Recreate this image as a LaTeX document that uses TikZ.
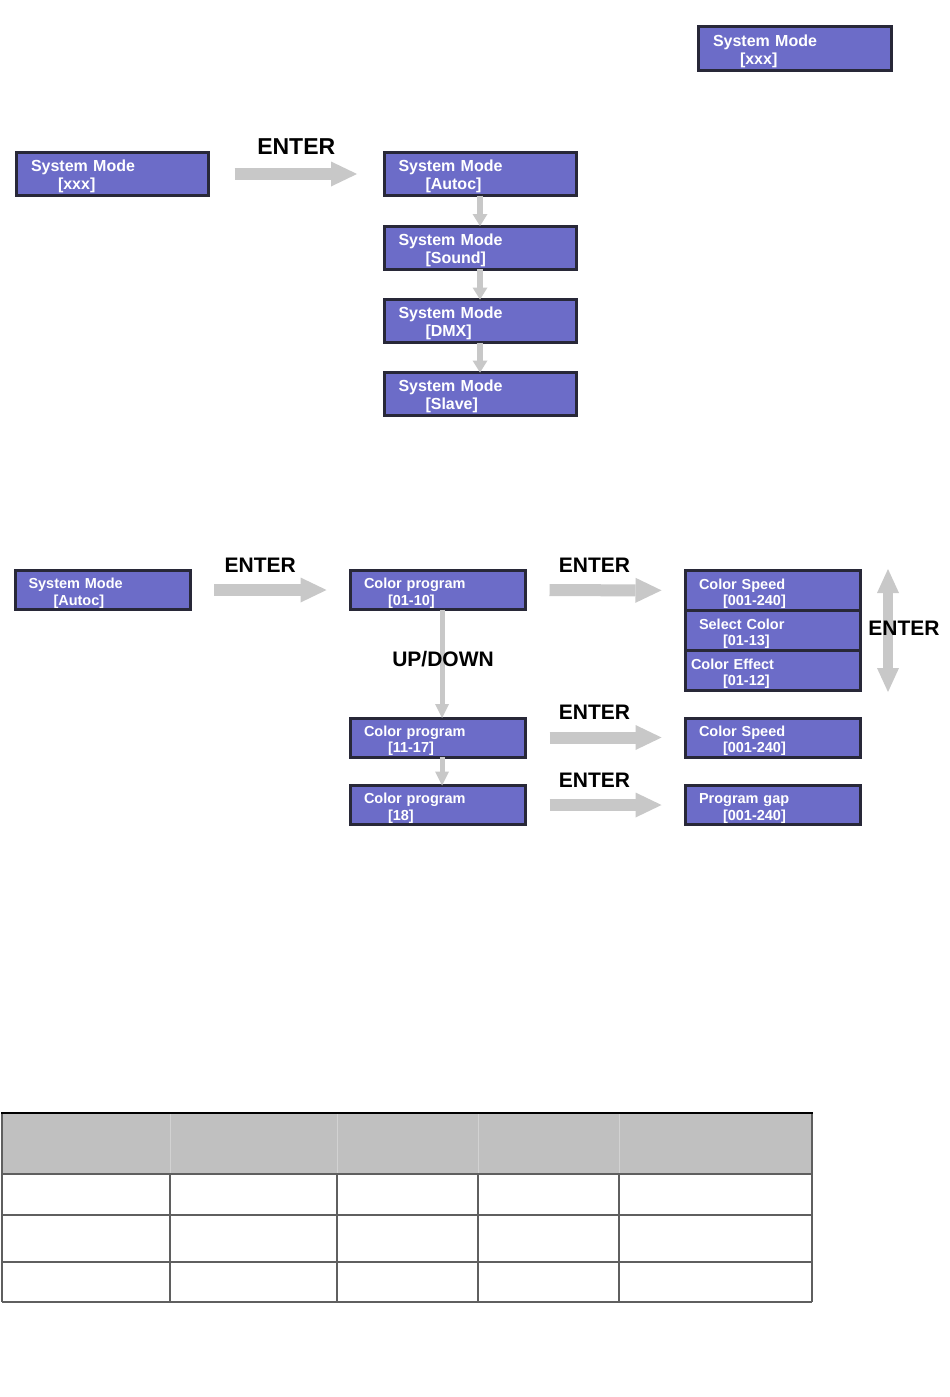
\documentclass[tikz,border=0pt]{standalone}
\usepackage{fontspec}
\setmainfont{Liberation Sans}
\usetikzlibrary{arrows.meta}
\definecolor{lcdfill}{RGB}{108,108,200}
\definecolor{lcdline}{RGB}{40,40,56}
\definecolor{arrgray}{RGB}{200,200,200}
\definecolor{hdrgray}{RGB}{192,192,192}
\definecolor{hdrsep}{RGB}{210,210,210}
\definecolor{tblline}{RGB}{95,95,95}
\newcommand{\lcdstrut}{\rule{0pt}{16.5pt}}
\begin{document}
\begin{tikzpicture}[x=1pt,y=-1pt,
  lcd/.style={draw=lcdline, line width=3pt, fill=lcdfill, text=white, align=left, inner ysep=0pt, outer sep=0pt},
  lcdA/.style={lcd, font=\bfseries\fontsize{16}{18}\selectfont, minimum width=192pt, minimum height=43pt, inner xsep=14.5pt, text width=163pt},
  lcdB/.style={lcd, font=\bfseries\fontsize{14.5}{16.5}\selectfont, minimum width=175pt, minimum height=39pt, inner xsep=13.5pt, text width=148pt},
  bigarrow/.style={draw=arrgray, line width=12pt, -{Triangle[length=26pt,width=25pt,line width=0pt]}, shorten <=24pt, shorten >=24pt},
  smallarrow/.style={draw=arrgray, line width=6pt, -{Triangle[length=12pt,width=15pt,line width=0pt]}},
  thinarrow/.style={draw=arrgray, line width=5pt, -{Triangle[length=14pt,width=14pt,line width=0pt]}},
  enterA/.style={font=\bfseries\fontsize{23}{23}\selectfont, text=black, inner sep=0pt},
  enterB/.style={font=\bfseries\fontsize{21}{21}\selectfont, text=black, inner sep=0pt}
]
\useasboundingbox (0,0) rectangle (950,1397);
\fill[white] (0,0) rectangle (950,1397);

% ---- section 1 ----
\node[lcdA, minimum width=193pt, minimum height=44pt, text width=164pt] (top) at (795,48.5) {\lcdstrut System Mode\\\hspace*{27pt}[xxx]};
\node[lcdA] (b1) at (112.5,174) {\lcdstrut System Mode\\\hspace*{27pt}[xxx]};
\node[lcdA] (s1) at (480,174) {\lcdstrut System Mode\\\hspace*{27pt}[Autoc]};
\node[lcdA] (s2) at (480,247.5) {\lcdstrut System Mode\\\hspace*{27pt}[Sound]};
\node[lcdA] (s3) at (480,321) {\lcdstrut System Mode\\\hspace*{27pt}[DMX]};
\node[lcdA] (s4) at (480,394) {\lcdstrut System Mode\\\hspace*{27pt}[Slave]};

\draw[bigarrow, shorten <=26pt, shorten >=27pt] (b1) -- (s1) node[midway, above=14pt, enterA] (e1) {ENTER};
\draw[smallarrow] (s1) -- (s2);
\draw[smallarrow] (s2) -- (s3);
\draw[smallarrow] (s3) -- (s4);

% ---- section 2 ----
\node[lcdB] (a1) at (102.5,590) {\lcdstrut System Mode\\\hspace*{25pt}[Autoc]};
\node[lcdB] (c1) at (438,590) {\lcdstrut Color program\\\hspace*{24pt}[01-10]};
\node[lcdB] (c2) at (438,737.5) {\lcdstrut Color program\\\hspace*{24pt}[11-17]};
\node[lcdB] (c3) at (438,805) {\lcdstrut Color program\\\hspace*{24pt}[18]};
\node[lcdB, minimum height=40pt] (r1) at (773,590.5) {\lcdstrut Color Speed\\\hspace*{24pt}[001-240]};
\node[lcdB, minimum height=40pt] (r2) at (773,630.5) {\lcdstrut Select Color\\\hspace*{24pt}[01-13]};
\node[lcdB, minimum height=40pt] (r3) at (773,670.5) {\lcdstrut\hspace*{-8pt}Color Effect\\\hspace*{24pt}[01-12]};
\node[lcdB] (r4) at (773,737.5) {\lcdstrut Color Speed\\\hspace*{24pt}[001-240]};
\node[lcdB] (r5) at (773,805) {\lcdstrut Program gap\\\hspace*{24pt}[001-240]};

\draw[bigarrow] (a1) -- (c1) node[midway, above=12pt, xshift=-10pt, enterB] (e2) {ENTER};
\draw[bigarrow] (c1) -- (r1) node[midway, above=12pt, xshift=-11pt, enterB] (e3) {ENTER};
\draw[bigarrow] (c2) -- (r4) node[midway, above=12pt, xshift=-11pt, enterB] (e4) {ENTER};
\draw[bigarrow] (c3) -- (r5) node[midway, above=12pt, xshift=-11pt, enterB] (e5) {ENTER};

\draw[thinarrow] ([xshift=4pt]c1.south) -- ([xshift=4pt]c2.north);
\draw[thinarrow] ([xshift=4pt]c2.south) -- ([xshift=4pt]c3.north);
\node[enterB] (ud) at (443,659) {UP/DOWN};

\coordinate (dtop) at (888,569);
\coordinate (dbot) at (888,692);
\draw[draw=arrgray, line width=10pt, {Triangle[length=24pt,width=22pt,line width=0pt]}-{Triangle[length=24pt,width=22pt,line width=0pt]}] (dtop) -- (dbot);
\node[enterB] (e6) at (904,628) {ENTER};

% ---- table ----
\fill[hdrgray] (2,1113) rectangle (812,1174);
\foreach \x in {170,337,478,619} {
  \draw[hdrsep, line width=1pt] (\x,1113) -- (\x,1174);
  \draw[tblline, line width=1.5pt] (\x,1174) -- (\x,1302);
}
\foreach \y in {1174,1215,1262,1302} {
  \draw[tblline, line width=1.5pt] (2,\y) -- (812,\y);
}
\draw[tblline, line width=1.5pt] (2,1113) -- (2,1302);
\draw[tblline, line width=1.5pt] (812,1113) -- (812,1302);
\draw[black, line width=2pt] (1,1113) -- (813,1113);
\end{tikzpicture}
\end{document}
